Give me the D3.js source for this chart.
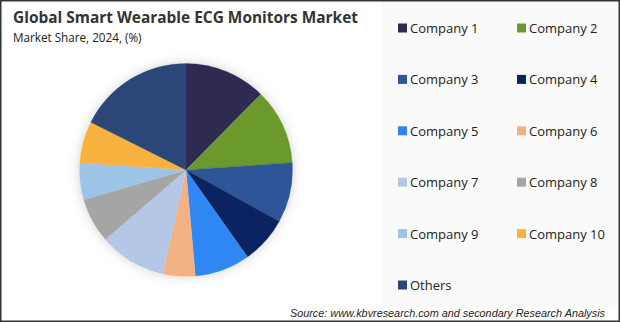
<!DOCTYPE html>
<html>
<head>
<meta charset="utf-8">
<script src="https://cdn.jsdelivr.net/npm/d3@7"></script>
<style>
  body { margin: 0; background: #fff; }
  svg { display: block; }
</style>
</head>
<body>
<div id="chart"></div>
<script>
// data (share %, 2024)
const companies = ["Company 1", "Company 2", "Company 3", "Company 4", "Company 5",
  "Company 6", "Company 7", "Company 8", "Company 9", "Company 10", "Others"];
const shares = [12.4, 11.5, 9.1, 7.2, 8.4, 4.9, 10.2, 6.8, 5.6, 6.3, 17.6];
const colors = ["#2f2a52", "#6a9a2c", "#2e5597", "#0b2361", "#2e87f2",
  "#f4b183", "#b4c7e7", "#a5a5a5", "#9dc3e6", "#f9b13f", "#2c4677"];

const w = 620, h = 322;
const svg = d3.select("#chart").append("svg")
  .attr("width", w)
  .attr("height", h);

// background + legend panel
svg.append("rect").attr("width", w).attr("height", h).attr("fill", "#fff");
svg.append("rect")
  .attr("x", 382).attr("y", 2).attr("width", 236).attr("height", 306)
  .attr("fill", "#fafafa");

// titles
svg.append("text")
  .attr("x", 13).attr("y", 23)
  .attr("font-family", "Open Sans")
  .attr("font-weight", "bold")
  .attr("font-size", "15.5px")
  .attr("textLength", 345)
  .attr("lengthAdjust", "spacingAndGlyphs")
  .attr("fill", "#333")
  .text("Global Smart Wearable ECG Monitors Market");

svg.append("text")
  .attr("x", 13).attr("y", 42)
  .attr("font-family", "Open Sans")
  .attr("font-size", "11.7px")
  .attr("fill", "#222")
  .text("Market Share, 2024, (%)");

// pie
const defs = svg.append("defs");
const f = defs.append("filter").attr("id", "shadow")
  .attr("x", "-20%").attr("y", "-20%").attr("width", "140%").attr("height", "140%");
f.append("feDropShadow")
  .attr("dx", 0).attr("dy", 0).attr("stdDeviation", 6)
  .attr("flood-color", "#000").attr("flood-opacity", 0.18);

const cx = 186, cy = 170, r = 106.5;
const pie = d3.pie().sort(null).value(d => d);
const arc = d3.arc().innerRadius(0).outerRadius(r);

const g = svg.append("g").attr("transform", "translate(" + cx + "," + cy + ")");
g.append("circle").attr("r", r).attr("fill", "#fff").attr("filter", "url(#shadow)");
g.selectAll("path")
  .data(pie(shares))
  .enter()
  .append("path")
  .attr("d", arc)
  .attr("fill", (d, i) => colors[i])
  .attr("stroke", (d, i) => colors[i])
  .attr("stroke-width", 0.3);

// legend
const colX = [398, 517];
const rowY = d3.scalePoint().domain(d3.range(6)).range([28, 285]);

const items = svg.selectAll(".legend")
  .data(companies)
  .enter()
  .append("g")
  .attr("class", "legend")
  .attr("transform", (d, i) => "translate(" + colX[i % 2] + "," + rowY(Math.floor(i / 2)) + ")");

items.append("rect")
  .attr("x", 0).attr("y", -4.5)
  .attr("width", 9).attr("height", 9)
  .attr("fill", (d, i) => colors[i]);

items.append("text")
  .attr("x", 12).attr("y", 5)
  .attr("font-family", "Open Sans")
  .attr("font-size", "13px")
  .attr("fill", "#222")
  .text(d => d);

// source
svg.append("text")
  .attr("x", 290).attr("y", 317)
  .attr("font-family", "Liberation Sans")
  .attr("font-style", "italic")
  .attr("font-size", "11px")
  .attr("textLength", 315)
  .attr("lengthAdjust", "spacingAndGlyphs")
  .attr("fill", "#222")
  .text("Source: www.kbvresearch.com and secondary Research Analysis");

// outer border
svg.append("rect")
  .attr("x", 0.75).attr("y", 0.75).attr("width", w - 1.5).attr("height", h - 1.5)
  .attr("fill", "none").attr("stroke", "#333").attr("stroke-width", 1.5);
</script>
</body>
</html>
